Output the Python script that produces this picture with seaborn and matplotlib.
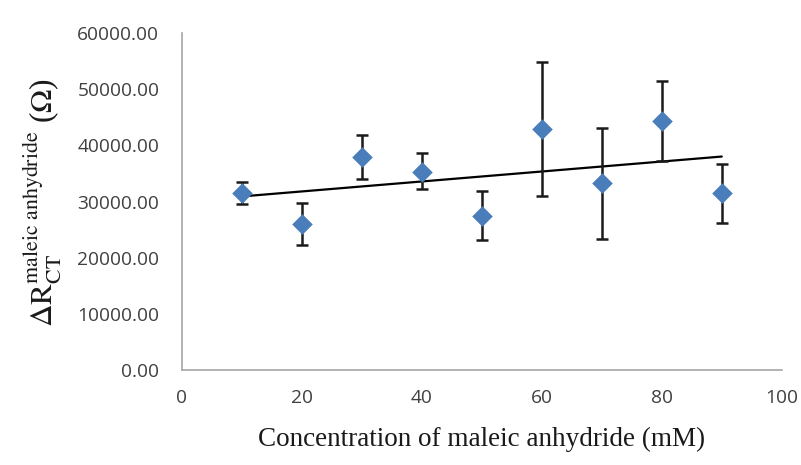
import numpy as np
import pandas as pd
import matplotlib
matplotlib.use("Agg")
import matplotlib.pyplot as plt
import seaborn as sns

# --- data ---
concentration = [10, 20, 30, 40, 50, 60, 70, 80, 90]
delta_rct = [31460, 25940, 37980, 35300, 27470, 42900, 33240, 44330, 31460]
err_up = [1950, 3850, 3900, 3350, 4450, 12000, 9900, 7100, 5300]
err_down = [1950, 3700, 4000, 3150, 4300, 11900, 9900, 7100, 5300]

x_ticks = [0, 20, 40, 60, 80, 100]
y_ticks = [0, 10000, 20000, 30000, 40000, 50000, 60000]

df = pd.DataFrame({"conc": concentration, "drct": delta_rct})

sns.set_style("white")
plt.rcParams["mathtext.fontset"] = "stix"

fig = plt.figure(figsize=(8.01, 4.65), dpi=100)
ax = fig.add_axes([0.2266, 0.2043, 0.7494, 0.7247])

# trendline (linear fit over data range)
sns.regplot(data=df, x="conc", y="drct", scatter=False, ci=None, ax=ax,
            color="black", line_kws={"linewidth": 1.6, "zorder": 2})

# error bars
ax.errorbar(df["conc"], df["drct"], yerr=[err_down, err_up], fmt="none",
            ecolor="#1a1a1a", elinewidth=1.8, capsize=4, capthick=1.8, zorder=3)

# points
sns.scatterplot(data=df, x="conc", y="drct", ax=ax, marker="D", s=110,
                color="#4a7ebb", edgecolor="#4a7ebb", linewidth=0, zorder=4)

ax.set_xlim(0, 100)
ax.set_ylim(0, 60000)
ax.set_xticks(x_ticks)
ax.set_yticks(y_ticks)
ax.set_yticklabels([f"{v:.2f}" for v in y_ticks])
ax.tick_params(axis="both", length=0, labelsize=13.8, labelcolor="#404040")
ax.tick_params(axis="y", pad=16)
ax.tick_params(axis="x", pad=14)
for lab in ax.get_xticklabels() + ax.get_yticklabels():
    lab.set_family(["Open Sans", "DejaVu Sans"])

for side in ["top", "right"]:
    ax.spines[side].set_visible(False)
for side in ["left", "bottom"]:
    ax.spines[side].set_color("#a6a6a6")
    ax.spines[side].set_linewidth(1.2)

ax.set_xlabel("Concentration of maleic anhydride (mM)", fontsize=19.5,
              family=["Liberation Serif", "DejaVu Serif"], color="#1a1a1a", labelpad=14)
ax.set_ylabel("")
fig.text(0.054, 0.565,
         r"$\Delta\mathrm{R}_{\mathrm{CT}}^{\mathrm{maleic\ anhydride}}$ ($\Omega$)",
         rotation=90, ha="center", va="center", fontsize=22.5,
         family=["Liberation Serif", "DejaVu Serif"], color="#1a1a1a")

fig.savefig("out.png", dpi=100, facecolor="white")
